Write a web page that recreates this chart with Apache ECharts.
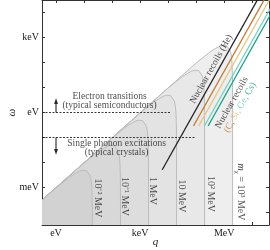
<!DOCTYPE html>
<html><head><meta charset="utf-8">
<script src="https://cdn.jsdelivr.net/npm/echarts@6/dist/echarts.min.js"></script>
<style>html,body{margin:0;padding:0;background:#fff}#c{width:270px;height:250px}</style>
</head><body><div id="c"></div>
<script>
// All coordinates are log10 of the quantity in eV (q: momentum transfer, w: energy deposition)
const xTickValues = [0, 1, 2, 3, 4, 5, 6, 7];
const xLabelValues = [0, 3, 6];
const xLabelNames = {'0': 'eV', '3': 'keV', '6': 'MeV'};
const yTickValues = [-4, -3, -2, -1, 0, 1, 2, 3, 4];
const yLabelValues = [-3, 0, 3];
const yLabelNames = {'-3': 'meV', '0': 'eV', '3': 'keV'};

// kinematic boundaries for each DM mass, [log q, log w]
const boundary_1e_2MeV = [[-0.5,-3.51],[0,-3.02],[0.30,-2.75],[0.48,-2.59],[0.60,-2.50],[0.70,-2.43],[0.85,-2.34],[0.95,-2.31],[1.0,-2.30],[1.08,-2.32],[1.15,-2.38],[1.20,-2.50],[1.23,-2.59],[1.26,-2.75],[1.28,-3.02],[1.29,-3.31],[1.297,-3.70],[1.299,-4.0],[1.301,-4.5]];
const boundary_1e_1MeV = [[-0.5,-3.5],[1,-2.02],[1.30,-1.75],[1.48,-1.59],[1.60,-1.50],[1.70,-1.43],[1.85,-1.34],[1.95,-1.31],[2.0,-1.30],[2.08,-1.32],[2.15,-1.38],[2.20,-1.50],[2.23,-1.59],[2.26,-1.75],[2.28,-2.02],[2.29,-2.31],[2.297,-2.70],[2.299,-3.0],[2.301,-4.0],[2.301,-4.5]];
const boundary_1e0MeV = [[-0.5,-3.5],[2,-1.02],[2.30,-0.75],[2.48,-0.59],[2.60,-0.50],[2.70,-0.43],[2.85,-0.34],[2.95,-0.31],[3.0,-0.30],[3.08,-0.32],[3.15,-0.38],[3.20,-0.50],[3.23,-0.59],[3.26,-0.75],[3.28,-1.02],[3.29,-1.31],[3.297,-1.70],[3.299,-2.0],[3.301,-3.0],[3.301,-4.5]];
const boundary_1e1MeV = [[-0.5,-3.5],[3,-0.02],[3.30,0.25],[3.48,0.41],[3.60,0.50],[3.70,0.57],[3.85,0.66],[3.95,0.69],[4.0,0.70],[4.08,0.68],[4.15,0.62],[4.20,0.50],[4.23,0.41],[4.26,0.25],[4.28,-0.02],[4.29,-0.31],[4.297,-0.70],[4.299,-1.0],[4.301,-2.0],[4.301,-4.5]];
const boundary_1e2MeV = [[-0.5,-3.5],[4,0.98],[4.30,1.25],[4.48,1.41],[4.60,1.50],[4.70,1.57],[4.85,1.66],[4.95,1.69],[5.0,1.70],[5.08,1.68],[5.15,1.62],[5.20,1.50],[5.23,1.41],[5.26,1.25],[5.28,0.98],[5.29,0.69],[5.297,0.30],[5.299,0.0],[5.301,-1.0],[5.301,-4.5]];
const boundary_1e3MeV = [[-0.5,-3.5],[5,1.98],[5.30,2.25],[5.48,2.41],[5.60,2.50],[5.70,2.57],[5.85,2.66],[5.95,2.69],[6.0,2.70],[6.08,2.68],[6.15,2.62],[6.20,2.50],[6.23,2.41],[6.26,2.25],[6.28,1.98],[6.29,1.69],[6.297,1.30],[6.299,1.0],[6.301,0.0],[6.301,-4.5]];

const massLabelText = ['10⁻² MeV', '10⁻¹ MeV', '1 MeV', '10 MeV', '10² MeV', '{i|m}{sub|χ}{n| = 10³ MeV}'];
const massLabelQ = [1.48, 2.45, 3.46, 4.49, 5.50, 6.57];
const massLabelW = [-3.42, -3.36, -3.14, -3.34, -3.26, -3.18];

// nuclear recoil lines (endpoints), [log q, log w]
const recoilHe = [[3.79,-2.29],[7.30,4.73]];
const recoilC  = [[4.905,-0.54],[7.60,4.85]];
const recoilSi = [[5.09,-0.54],[7.70,4.68]];
const recoilGe = [[5.296,-0.54],[7.70,4.27]];
const recoilCs = [[5.427,-0.54],[7.70,4.01]];

// threshold lines
const electronLine = [[-0.5,0],[4.1,0]];
const phononLine = [[-0.5,-1],[4.96,-1]];
const electronArrow = [[0,0],[0,0.46]];
const phononArrow = [[0,-1],[0,-1.58]];

const FONT = 'Liberation Serif';
const fills = ['#d2d2d2','#d8d8d8','#dddddd','#e3e3e3','#e8e8e8','#eeeeee'];
const boundaries = [boundary_1e_2MeV, boundary_1e_1MeV, boundary_1e0MeV, boundary_1e1MeV, boundary_1e2MeV, boundary_1e3MeV];

const series = [];
for (let i = boundaries.length - 1; i >= 0; i--) {
  series.push({type:'line', z:1, data: boundaries[i], symbol:'none', silent:true,
    lineStyle:{color:'#bcbcbc', width:1}, areaStyle:{color:fills[i], opacity:1, origin:'start'}});
}
[[recoilHe,'#222222'],[recoilC,'#bf7a34'],[recoilSi,'#e8c47e'],[recoilGe,'#72d1bf'],[recoilCs,'#16a088']].forEach(([d,c])=>{
  series.push({type:'line', z:3, data:d, symbol:'none', silent:true, lineStyle:{color:c, width:1.3}});
});
[electronLine, phononLine].forEach(d=>{
  series.push({type:'line', z:3, data:d, symbol:'none', silent:true, lineStyle:{color:'#222', width:0.9, type:[2,1.5]}});
});
[electronArrow, phononArrow].forEach(d=>{
  series.push({type:'line', z:3, data:d, symbol:'none', silent:true, lineStyle:{color:'#111', width:1}});
});
series.push({type:'scatter', z:3, silent:true, symbol:'triangle', symbolSize:[4,6], itemStyle:{color:'#111'},
  data:[{value:electronArrow[1], symbolRotate:0},{value:phononArrow[1], symbolRotate:180}]});

function textLabel(pos, text, rotate, extra) {
  return {type:'scatter', z:10, silent:true, symbolSize:0, data:[pos],
    label:Object.assign({show:true, position:'inside', formatter:text, rotate:rotate||0,
      fontFamily:FONT, fontSize:9.5, color:'#1a1a1a', lineHeight:9, align:'center', verticalAlign:'middle'}, extra||{})};
}
series.push(textLabel([1.91,0.46], 'Electron transitions\n(typical semiconductors)'));
series.push(textLabel([2.16,-1.40], 'Single phonon excitations\n(typical crystals)'));
for (let i = 0; i < massLabelText.length; i++) {
  series.push(textLabel([massLabelQ[i], massLabelW[i]], massLabelText[i], -90, {fontSize:10,
    rich:{i:{fontStyle:'italic', fontSize:10, fontFamily:FONT, lineHeight:14, verticalAlign:'middle'},
          sub:{fontSize:7, fontFamily:FONT, lineHeight:7, verticalAlign:'bottom'},
          n:{fontSize:10, fontFamily:FONT, lineHeight:14, verticalAlign:'middle'}}}));
}
series.push(textLabel([5.54,1.74], 'Nuclear recoils (He)', 60.7));
series.push(textLabel([6.42,0.30], '{a|Nuclear recoils}\n{c|(C,} {s|Si,} {g|Ge,} {k|Cs)}', 60.7, {
  rich:{a:{color:'#1a1a1a', fontFamily:FONT, fontSize:9.5, lineHeight:9.5},
        c:{color:'#bf7a34', fontFamily:FONT, fontSize:9.5, lineHeight:9.5},
        s:{color:'#e3b56a', fontFamily:FONT, fontSize:9.5, lineHeight:9.5},
        g:{color:'#5fc8b4', fontFamily:FONT, fontSize:9.5, lineHeight:9.5},
        k:{color:'#16a088', fontFamily:FONT, fontSize:9.5, lineHeight:9.5}}}));

function xAxisCfg(pos, showLabels) {
  const a = {type:'value', position:pos, min:-0.5, max:7.6,
    axisLine:{show:true, onZero:false, lineStyle:{color:'#333', width:1}},
    axisTick:{show:true, inside:true, length:3, customValues:xTickValues, lineStyle:{color:'#333'}},
    axisLabel:{show:showLabels, customValues:xLabelValues, formatter:v=>xLabelNames[String(v)]||'',
      margin:3, color:'#1a1a1a', fontFamily:FONT, fontSize:10},
    splitLine:{show:false}};
  if (showLabels) Object.assign(a, {name:'q', nameLocation:'middle', nameGap:12, nameMoveOverlap:false,
    nameTextStyle:{fontStyle:'italic', fontFamily:FONT, fontSize:11, color:'#1a1a1a'}});
  return a;
}
function yAxisCfg(pos, showLabels) {
  const a = {type:'value', position:pos, min:-4.5, max:4.5,
    axisLine:{show:true, onZero:false, lineStyle:{color:'#333', width:1}},
    axisTick:{show:true, inside:true, length:3, customValues:yTickValues, lineStyle:{color:'#333'}},
    axisLabel:{show:showLabels, customValues:yLabelValues, formatter:v=>yLabelNames[String(v)]||'',
      margin:3, color:'#1a1a1a', fontFamily:FONT, fontSize:10},
    splitLine:{show:false}};
  if (showLabels) Object.assign(a, {name:'ω', nameLocation:'middle', nameGap:24, nameRotate:90, nameMoveOverlap:false,
    nameTextStyle:{fontStyle:'italic', fontFamily:FONT, fontSize:11, color:'#1a1a1a'}});
  return a;
}

const chart = echarts.init(document.getElementById('c'));
chart.setOption({
  animation:false,
  grid:{left:42, right:1, top:0, bottom:25, containLabel:false, outerBoundsMode:'none'},
  xAxis:[xAxisCfg('bottom', true), xAxisCfg('top', false)],
  yAxis:[yAxisCfg('left', true), yAxisCfg('right', false)],
  series: series
});
</script></body></html>
